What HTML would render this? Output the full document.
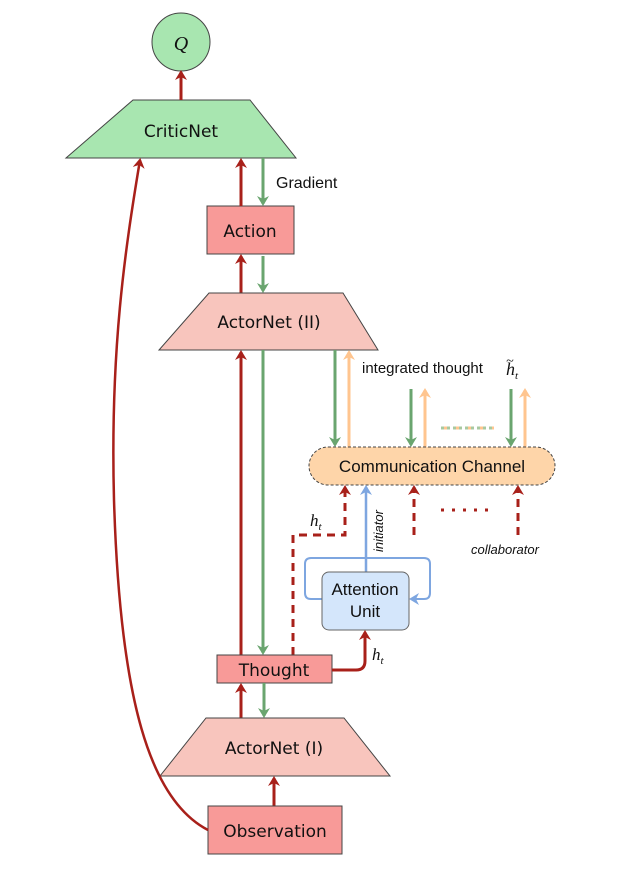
<!DOCTYPE html>
<html><head><meta charset="utf-8"><style>
html,body{margin:0;padding:0;background:#fff}
svg{display:block}
text{font-family:"DejaVu Sans","Liberation Sans",sans-serif;fill:#111}
.h{font-family:"Liberation Sans",sans-serif}
.m{font-family:"Liberation Serif",serif;font-style:italic}
</style></head><body>
<svg width="629" height="877" viewBox="0 0 629 877" xmlns="http://www.w3.org/2000/svg">
<defs>
<marker id="r" markerWidth="12" markerHeight="12" refX="8" refY="6" orient="auto" markerUnits="userSpaceOnUse" viewBox="0 0 12 12"><path d="M0,0 L10,6 L0,12 L3,6z" fill="#a8201a"/></marker>
<marker id="g" markerWidth="12" markerHeight="12" refX="8" refY="6" orient="auto" markerUnits="userSpaceOnUse" viewBox="0 0 12 12"><path d="M0,0 L10,6 L0,12 L3,6z" fill="#6aa56f"/></marker>
<marker id="o" markerWidth="12" markerHeight="12" refX="8" refY="6" orient="auto" markerUnits="userSpaceOnUse" viewBox="0 0 12 12"><path d="M0,0 L10,6 L0,12 L3,6z" fill="#ffc58f"/></marker>
<marker id="b" markerWidth="12" markerHeight="12" refX="8" refY="6" orient="auto" markerUnits="userSpaceOnUse" viewBox="0 0 12 12"><path d="M0,0 L10,6 L0,12 L3,6z" fill="#7ea6e0"/></marker>
</defs>
<circle cx="181" cy="42" r="29" fill="#a8e6b0" stroke="#444"/>
<text x="181" y="50" class="m" font-size="20" text-anchor="middle">Q</text>
<polygon points="133,100 250,100 296,158 66,158" fill="#a8e6b0" stroke="#444"/>
<text x="181" y="137" font-size="17" text-anchor="middle">CriticNet</text>
<line x1="181" y1="100" x2="181" y2="72" stroke="#a8201a" stroke-width="3" marker-end="url(#r)"/>
<rect x="207" y="206" width="87" height="48" fill="#f89a98" stroke="#444"/>
<text x="250" y="237" font-size="17" text-anchor="middle">Action</text>
<line x1="241" y1="206" x2="241" y2="160" stroke="#a8201a" stroke-width="3" marker-end="url(#r)"/>
<line x1="263" y1="158" x2="263" y2="204" stroke="#6aa56f" stroke-width="3" marker-end="url(#g)"/>
<text x="276" y="188" font-size="16" class="h">Gradient</text>
<line x1="241" y1="293" x2="241" y2="256" stroke="#a8201a" stroke-width="3" marker-end="url(#r)"/>
<line x1="263" y1="256" x2="263" y2="291" stroke="#6aa56f" stroke-width="3" marker-end="url(#g)"/>
<polygon points="209,293 343,293 378,350 159,350" fill="#f8c5bd" stroke="#444"/>
<text x="269" y="328" font-size="17" text-anchor="middle">ActorNet (II)</text>
<line x1="241" y1="655" x2="241" y2="352" stroke="#a8201a" stroke-width="3" marker-end="url(#r)"/>
<line x1="263" y1="350" x2="263" y2="653" stroke="#6aa56f" stroke-width="3" marker-end="url(#g)"/>
<line x1="335" y1="350" x2="335" y2="445" stroke="#6aa56f" stroke-width="3" marker-end="url(#g)"/>
<line x1="349" y1="447" x2="349" y2="352" stroke="#ffc58f" stroke-width="3" marker-end="url(#o)"/>
<text x="362" y="373" font-size="15" class="h">integrated thought</text>
<text x="506" y="375" font-size="18" class="m">h</text>
<text x="506" y="365" font-size="14" class="m">~</text>
<text x="515" y="379" font-size="11" class="m">t</text>
<line x1="411" y1="389" x2="411" y2="445" stroke="#6aa56f" stroke-width="3" marker-end="url(#g)"/>
<line x1="425" y1="447" x2="425" y2="390" stroke="#ffc58f" stroke-width="3" marker-end="url(#o)"/>
<line x1="441" y1="428" x2="494" y2="428" stroke="#a8c9a0" stroke-width="3" stroke-dasharray="3,3"/>
<line x1="444" y1="428" x2="494" y2="428" stroke="#ffc58f" stroke-width="3" stroke-dasharray="3,9"/>
<line x1="511" y1="389" x2="511" y2="445" stroke="#6aa56f" stroke-width="3" marker-end="url(#g)"/>
<line x1="525" y1="447" x2="525" y2="390" stroke="#ffc58f" stroke-width="3" marker-end="url(#o)"/>
<rect x="309" y="447" width="246" height="38" rx="19" fill="#fed5a9" stroke="#444" stroke-dasharray="3,2"/>
<text x="432" y="472" font-size="17" class="h" text-anchor="middle">Communication Channel</text>
<path d="M293,655 L293,535 L345,535 L345,487" fill="none" stroke="#a8201a" stroke-width="3" stroke-dasharray="8,6" marker-end="url(#r)"/>
<text x="310" y="526" font-size="17" class="m">h<tspan font-size="11" dy="4">t</tspan></text>
<line x1="414" y1="535" x2="414" y2="487" stroke="#a8201a" stroke-width="3" stroke-dasharray="8,6" marker-end="url(#r)"/>
<line x1="441" y1="510" x2="492" y2="510" stroke="#a8201a" stroke-width="3" stroke-dasharray="3,8"/>
<line x1="518" y1="535" x2="518" y2="487" stroke="#a8201a" stroke-width="3" stroke-dasharray="8,6" marker-end="url(#r)"/>
<text x="471" y="554" font-size="13" class="h" font-style="italic">collaborator</text>
<line x1="366" y1="572" x2="366" y2="487" stroke="#7ea6e0" stroke-width="2.5" marker-end="url(#b)"/>
<text transform="translate(383,552) rotate(-90)" font-size="13" class="h" font-style="italic">initiator</text>
<path d="M322,599 L311,599 Q305,599 305,593 L305,564 Q305,558 311,558 L424,558 Q430,558 430,564 L430,593 Q430,599 424,599 L411,599" fill="none" stroke="#7ea6e0" stroke-width="2" marker-end="url(#b)"/>
<rect x="322" y="572" width="87" height="58" rx="7" fill="#d4e6fb" stroke="#666"/>
<text x="365" y="595" font-size="17" class="h" text-anchor="middle">Attention</text>
<text x="365" y="617" font-size="17" class="h" text-anchor="middle">Unit</text>
<rect x="217" y="655" width="115" height="28" fill="#f89a98" stroke="#444"/>
<text x="274" y="676" font-size="17" text-anchor="middle">Thought</text>
<path d="M332,670 L356,670 Q365,670 365,661 L365,632" fill="none" stroke="#a8201a" stroke-width="3" marker-end="url(#r)"/>
<text x="372" y="660" font-size="17" class="m">h<tspan font-size="11" dy="4">t</tspan></text>
<line x1="241" y1="718" x2="241" y2="685" stroke="#a8201a" stroke-width="3" marker-end="url(#r)"/>
<line x1="264" y1="683" x2="264" y2="716" stroke="#6aa56f" stroke-width="3" marker-end="url(#g)"/>
<polygon points="206,718 344,718 390,776 160,776" fill="#f8c5bd" stroke="#444"/>
<text x="274" y="754" font-size="17" text-anchor="middle">ActorNet (I)</text>
<line x1="274" y1="806" x2="274" y2="778" stroke="#a8201a" stroke-width="3" marker-end="url(#r)"/>
<rect x="208" y="806" width="134" height="48" fill="#f89a98" stroke="#444"/>
<text x="275" y="837" font-size="17" text-anchor="middle">Observation</text>
<path d="M208,830 C150,800 120,700 114,500 C110,350 125,250 140,160" fill="none" stroke="#a8201a" stroke-width="2.5" marker-end="url(#r)"/>
</svg>
</body></html>
